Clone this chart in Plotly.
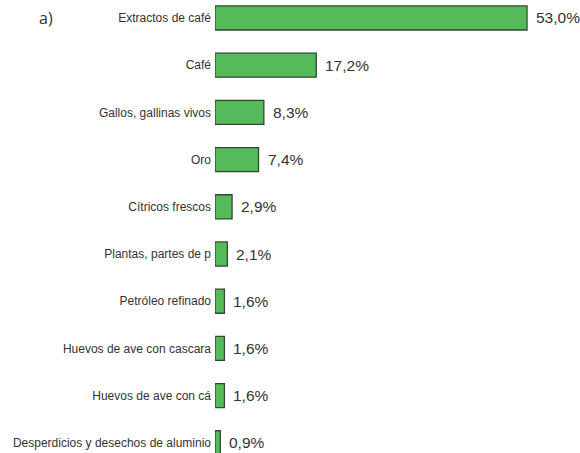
import plotly.graph_objects as go

categories = ["Extractos de café", "Café", "Gallos, gallinas vivos", "Oro",
              "Cítricos frescos", "Plantas, partes de p", "Petróleo refinado",
              "Huevos de ave con cascara", "Huevos de ave con cá",
              "Desperdicios y desechos de aluminio"]
values = [53.0, 17.2, 8.3, 7.4, 2.9, 2.1, 1.6, 1.6, 1.6, 0.9]
value_labels = ["53,0%", "17,2%", "8,3%", "7,4%", "2,9%", "2,1%", "1,6%", "1,6%", "1,6%", "0,9%"]

fig = go.Figure()
fig.add_trace(go.Bar(
    x=values, y=categories, orientation="h",
    marker=dict(color="#55bb5a", line=dict(color="#2f4a30", width=1.3)),
    width=0.51, hoverinfo="skip",
))
for c, v, t in zip(categories, values, value_labels):
    fig.add_annotation(x=v, y=c, text=t, showarrow=False, xanchor="left",
                       xshift=7, font=dict(family="Liberation Sans, Arial", size=15.5, color="#333333"))

fig.add_annotation(x=-178/365, y=1 - 18/453, xref="paper", yref="paper", text="a)",
                   showarrow=False, xanchor="left", yanchor="middle",
                   font=dict(family="Open Sans, Calibri, sans-serif", size=16, color="#333333"))

fig.update_layout(
    width=580, height=453,
    margin=dict(l=215, r=0, t=0, b=0),
    paper_bgcolor="white", plot_bgcolor="white",
    showlegend=False,
    xaxis=dict(range=[0, 62], visible=False, fixedrange=True),
    yaxis=dict(type="category", categoryorder="array", categoryarray=categories,
               range=[9.216, -0.381], showgrid=False, zeroline=False, showline=False,
               ticks="", ticklabelstandoff=3, automargin=False, fixedrange=True,
               tickfont=dict(family="Liberation Sans, Arial", size=12, color="#333333")),
)

fig.write_html("out.html", config={"displayModeBar": False},
               post_script="document.body.style.margin='0';document.body.style.padding='0';")
